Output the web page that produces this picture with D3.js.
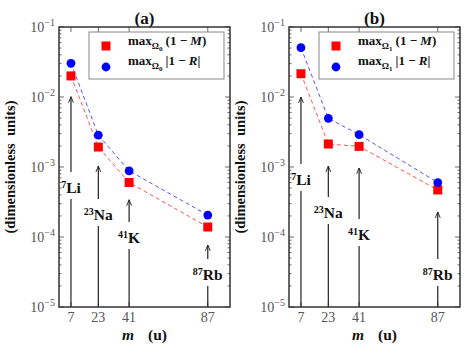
<!DOCTYPE html>
<html><head><meta charset="utf-8">
<script src="https://cdn.jsdelivr.net/npm/d3@7"></script>
<style>
html,body{margin:0;padding:0;background:#fff;}
svg{display:block;}
text{font-family:"Liberation Serif","DejaVu Serif",serif;}
</style></head>
<body>
<svg id="chart" width="471" height="353"></svg>
<script>
// ---- data ----
const masses = [7, 23, 41, 87];
const massLabels = ["7", "23", "41", "87"];
const elementSymbols = ["Li", "Na", "K", "Rb"];
const panelTitles = ["(a)", "(b)"];
const omegaSubs = ["0", "1"];
// panel (a)
const maxOneMinusM_a = [0.0200, 0.00193, 0.00060, 0.000139];
const maxOneMinusR_a = [0.0303, 0.00286, 0.00088, 0.000206];
// panel (b)
const maxOneMinusM_b = [0.0215, 0.00213, 0.00197, 0.00047];
const maxOneMinusR_b = [0.0507, 0.00496, 0.00290, 0.00060];
// annotation arrows: tip value and label value (data units)
const arrowTip_a = [0.0101, 0.00103, 0.00034, 0.000077];
const labelAt_a  = [0.00050, 0.000206, 0.000097, 0.0000286];
const arrowTip_b = [0.0100, 0.00103, 0.00097, 0.000228];
const labelAt_b  = [0.00065, 0.000220, 0.000107, 0.0000286];
const yTickExps = [-5, -4, -3, -2, -1];
const yDomain = [1e-5, 1e-1];
const xDomain = [0, 100];

(function () {
const svg = d3.select("#chart");
const panels = [
  {x0: 59, title: panelTitles[0], sub: omegaSubs[0], M: maxOneMinusM_a, R: maxOneMinusR_a, tip: arrowTip_a, lab: labelAt_a},
  {x0: 289, title: panelTitles[1], sub: omegaSubs[1], M: maxOneMinusM_b, R: maxOneMinusR_b, tip: arrowTip_b, lab: labelAt_b}
];
const pw = 171, pTop = 27, pBottom = 307;

svg.append("defs").append("marker")
  .attr("id", "ah").attr("viewBox", "0 0 10 10").attr("refX", 9.5).attr("refY", 5)
  .attr("markerWidth", 7).attr("markerHeight", 7).attr("markerUnits", "userSpaceOnUse").attr("orient", "auto")
  .append("path").attr("d", "M1,1.5 L9.5,5 L1,8.5").attr("fill", "none")
  .attr("stroke", "#222").attr("stroke-width", 1.3);

panels.forEach(p => {
  const g = svg.append("g");
  const x = d3.scaleLinear().domain(xDomain).range([p.x0, p.x0 + pw]);
  const y = d3.scaleLog().domain(yDomain).range([pBottom, pTop]);

  // minor ticks
  const minor = [];
  for (let e = -5; e < -1; e++) for (let k = 2; k <= 9; k++) minor.push(k * Math.pow(10, e));
  const tickG = g.append("g").attr("stroke", "#444").attr("stroke-width", 0.8);
  minor.forEach(v => {
    tickG.append("line").attr("x1", x.range()[0]).attr("x2", x.range()[0] + 2.5).attr("y1", y(v)).attr("y2", y(v));
    tickG.append("line").attr("x1", x.range()[1]).attr("x2", x.range()[1] - 2.5).attr("y1", y(v)).attr("y2", y(v));
  });
  yTickExps.forEach(e => {
    const v = Math.pow(10, e);
    tickG.append("line").attr("x1", x.range()[0]).attr("x2", x.range()[0] + 5).attr("y1", y(v)).attr("y2", y(v));
    tickG.append("line").attr("x1", x.range()[1]).attr("x2", x.range()[1] - 5).attr("y1", y(v)).attr("y2", y(v));
  });
  masses.forEach(m => {
    tickG.append("line").attr("x1", x(m)).attr("x2", x(m)).attr("y1", pBottom).attr("y2", pBottom - 5);
    tickG.append("line").attr("x1", x(m)).attr("x2", x(m)).attr("y1", pTop).attr("y2", pTop + 5);
  });

  // y tick labels
  yTickExps.forEach(e => {
    const t = g.append("text").attr("x", p.x0 - 4).attr("y", y(Math.pow(10, e)) + 5)
      .attr("text-anchor", "end").attr("fill", "#555").attr("font-size", 14);
    t.append("tspan").text("10");
    t.append("tspan").attr("dy", -6).attr("font-size", 10).text("\u2212" + Math.abs(e));
  });
  // x tick labels
  masses.forEach((m, i) => {
    g.append("text").attr("x", x(m)).attr("y", 322).attr("text-anchor", "middle")
      .attr("fill", "#555").attr("font-size", 14).text(massLabels[i]);
  });

  // annotation arrows
  masses.forEach((m, i) => {
    const ly = y(p.lab[i]);
    g.append("line").attr("x1", x(m)).attr("x2", x(m)).attr("y1", ly - 16).attr("y2", y(p.tip[i]))
      .attr("stroke", "#222").attr("stroke-width", 1.2).attr("marker-end", "url(#ah)");
    g.append("line").attr("x1", x(m)).attr("x2", x(m)).attr("y1", ly + 11).attr("y2", pBottom)
      .attr("stroke", "#222").attr("stroke-width", 1.2);
    const t = g.append("text").attr("x", x(m)).attr("y", ly + 5).attr("text-anchor", "middle")
      .attr("font-weight", "bold").attr("font-size", 15.5).attr("fill", "#111");
    t.append("tspan").attr("font-size", 10).attr("dy", -5).text(massLabels[i]);
    t.append("tspan").attr("dy", 5).text(elementSymbols[i]);
  });

  // dashed lines
  const line = d3.line().x((d, i) => x(masses[i])).y(d => y(d));
  g.append("path").datum(p.M).attr("d", line).attr("fill", "none")
    .attr("stroke", "#ff5555").attr("stroke-width", 1).attr("stroke-dasharray", "4,3");
  g.append("path").datum(p.R).attr("d", line).attr("fill", "none")
    .attr("stroke", "#5555ff").attr("stroke-width", 1).attr("stroke-dasharray", "4,3");

  // markers
  g.selectAll(".sq").data(p.M).enter().append("rect")
    .attr("x", (d, i) => x(masses[i]) - 4.5).attr("y", d => y(d) - 4.5)
    .attr("width", 9).attr("height", 9).attr("fill", "#ff0000");
  g.selectAll(".ci").data(p.R).enter().append("circle")
    .attr("cx", (d, i) => x(masses[i])).attr("cy", d => y(d)).attr("r", 4.4).attr("fill", "#0000ff");

  // frame
  g.append("rect").attr("x", p.x0).attr("y", pTop).attr("width", pw).attr("height", pBottom - pTop)
    .attr("fill", "none").attr("stroke", "#333").attr("stroke-width", 1.5);

  // legend
  const lx = p.x0 + 30, ly0 = 32;
  g.append("rect").attr("x", lx).attr("y", ly0).attr("width", 135).attr("height", 47)
    .attr("fill", "#fff").attr("stroke", "#888").attr("stroke-width", 1);
  g.append("rect").attr("x", lx + 17 - 4.5).attr("y", ly0 + 14 - 4.5).attr("width", 9).attr("height", 9).attr("fill", "#ff0000");
  g.append("circle").attr("cx", lx + 17).attr("cy", ly0 + 35).attr("r", 4.4).attr("fill", "#0000ff");
  const legendTexts = [["(1 \u2212 ", "M", ")"], ["|1 \u2212 ", "R", "|"]];
  legendTexts.forEach((parts, j) => {
    const t = g.append("text").attr("x", lx + 39).attr("y", ly0 + 13 + j * 20)
      .attr("font-size", 13).attr("font-weight", "bold").attr("fill", "#111");
    t.append("tspan").text("max");
    t.append("tspan").attr("dy", 4).attr("font-size", 9).text("\u03A9");
    t.append("tspan").attr("dy", 2).attr("font-size", 7).text(p.sub);
    t.append("tspan").attr("dy", -6).attr("dx", 3).text(parts[0]);
    t.append("tspan").attr("font-style", "italic").text(parts[1]);
    t.append("tspan").text(parts[2]);
  });

  // title
  g.append("text").attr("x", p.x0 + pw / 2).attr("y", 24).attr("text-anchor", "middle")
    .attr("font-size", 17).attr("font-weight", "bold").attr("fill", "#111").text(p.title);

  // y label
  g.append("text").attr("transform", `translate(${p.x0 - 44},${(pTop + pBottom) / 2}) rotate(-90)`)
    .attr("text-anchor", "middle").attr("font-size", 14.5).attr("font-weight", "bold").attr("fill", "#111")
    .attr("xml:space", "preserve").text("(dimensionless  units)");
  // x label
  const xl = g.append("text").attr("x", p.x0 + pw / 2).attr("y", 340).attr("text-anchor", "middle")
    .attr("font-size", 15.5).attr("font-weight", "bold").attr("fill", "#111");
  xl.append("tspan").attr("font-style", "italic").text("m");
  xl.append("tspan").attr("dx", 14).text("(u)");
});
})();
</script>
</body></html>
